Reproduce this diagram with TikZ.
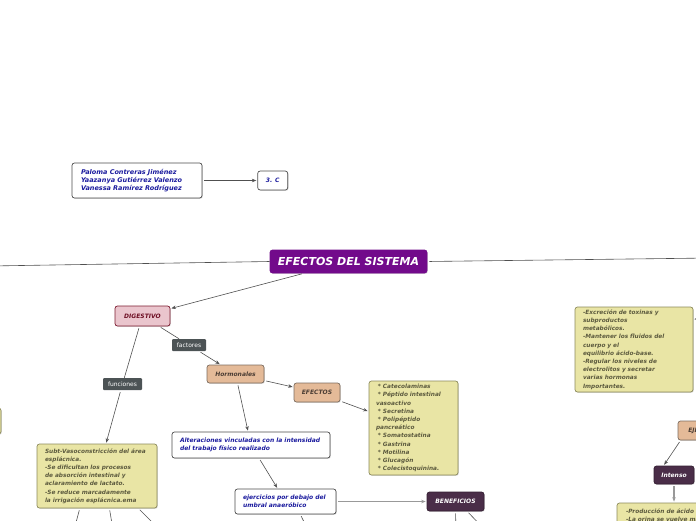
\documentclass[tikz,border=0pt]{standalone}
\usepackage{fontspec}
\usepackage{tikz}
\usetikzlibrary{arrows.meta,positioning,shadows}
\newfontfamily\mapfont{DejaVu Sans}
\definecolor{titlepurple}{HTML}{720A8B}
\definecolor{darkplum}{HTML}{4A2D48}
\definecolor{tagslate}{HTML}{4C5355}
\definecolor{notefill}{HTML}{E9E5A5}
\definecolor{notedraw}{HTML}{8C8A5C}
\definecolor{notetext}{HTML}{5C5A3E}
\definecolor{tanfill}{HTML}{E4BA98}
\definecolor{tandraw}{HTML}{7D6D5F}
\definecolor{tantext}{HTML}{4B3D34}
\definecolor{pinkfill}{HTML}{EAC5CD}
\definecolor{pinkdraw}{HTML}{7C1B30}
\definecolor{pinktext}{HTML}{6E0F24}
\definecolor{inkblue}{HTML}{1B1B9E}
\definecolor{linkgray}{HTML}{505050}

\begin{document}
\begin{tikzpicture}[x=1pt, y=-1pt,
  box/.style={rectangle, rounded corners=2.5pt, line width=0.7pt, inner sep=0pt,
              font=\mapfont\bfseries\itshape\fontsize{6}{8}\selectfont,
              drop shadow={shadow xshift=0.8pt, shadow yshift=-0.8pt, opacity=0.3}},
  whitebox/.style={box, draw=gray!60!black, fill=white, text=inkblue, align=left},
  notebox/.style={box, draw=notedraw, fill=notefill, text=notetext, align=left,
                  font=\mapfont\bfseries\itshape\fontsize{5.8}{8.2}\selectfont},
  tanbox/.style={box, draw=tandraw, fill=tanfill, text=tantext, align=center},
  pinkbox/.style={box, draw=pinkdraw, fill=pinkfill, text=pinktext, align=center},
  plumbox/.style={box, draw=darkplum!70!black, fill=darkplum, text=white, align=center},
  titlebox/.style={box, draw=titlepurple, fill=titlepurple, text=white,
                   font=\mapfont\bfseries\itshape\fontsize{11}{13}\selectfont},
  tag/.style={rectangle, rounded corners=1pt, fill=tagslate, text=white, inner sep=0pt,
              minimum height=12pt, font=\mapfont\fontsize{6}{7}\selectfont},
  link/.style={draw=linkgray, line width=0.6pt, -{Stealth[length=4.5pt,width=3.5pt]},
               shorten <=2pt, shorten >=1pt},
  line/.style={draw=linkgray, line width=0.6pt, shorten <=2pt},
]
\useasboundingbox (0,0) rectangle (696,520);
\clip (0,0) rectangle (696,520);

% authors
\node[whitebox, text width=112pt, minimum width=130pt, minimum height=35pt,
      font=\mapfont\bfseries\itshape\fontsize{6.5}{8}\selectfont] (authors) at (137,180.5)
  {Paloma Contreras Jiménez\\Yaazanya Gutiérrez Valenzo\\Vanessa Ramírez Rodríguez};
\node[whitebox, align=center, minimum width=30pt, minimum height=19pt, right=55pt of authors] (group) {3. C};

% central topic
\node[titlebox, minimum width=157pt, minimum height=23pt] (title) at (348.5,261.5) {EFECTOS DEL SISTEMA};
\coordinate (offleft) at (-10,266);
\coordinate (offright) at (710,258);

% digestive branch
\node[pinkbox, minimum width=55pt, minimum height=20pt] (digestivo) at (142.5,316) {DIGESTIVO};
\node[tag, minimum width=34pt] (factores) at (189,345) {factores};
\node[tag, minimum width=39pt] (funciones) at (122.5,384) {funciones};
\node[tanbox, minimum width=57pt, minimum height=18pt] (hormonales) at (235.5,374) {Hormonales};
\node[tanbox, minimum width=46pt, minimum height=19pt] (efectos) at (317,392.5) {EFECTOS};
\node[notebox, text width=75pt, minimum width=89pt, minimum height=94pt] (hormlist) at (413.5,428)
  {\ {*} Catecolaminas\\\ {*} Péptido intestinal\\vasoactivo\\\ {*} Secretina\\\ {*} Polipéptido\\pancreático\\
   \ {*} Somatostatina\\\ {*} Gastrina\\\ {*} Motilina\\\ {*} Glucagón\\\ {*} Colecistoquinina.};
\node[whitebox, text width=142pt, minimum width=158pt, minimum height=26pt] (alteraciones) at (251,445)
  {Alteraciones vinculadas con la intensidad\\del trabajo físico realizado};
\node[whitebox, text width=85pt, minimum width=101pt, minimum height=25pt] (ejercicios) at (285.5,501.5)
  {ejercicios por debajo del\\umbral anaeróbico};
\node[plumbox, minimum width=57pt, minimum height=19pt] (beneficios) at (455.5,501.5) {BENEFICIOS};
\node[notebox, text width=104pt, minimum width=120pt, minimum height=64pt] (subt) at (97,476)
  {Subt-Vasoconstricción del área\\esplácnica.\\-Se dificultan los procesos\\de absorción intestinal y\\
   aclaramiento de lactato.\\-Se reduce marcadamente\\la irrigación esplácnica.ema};
\node[notebox, minimum width=30pt, minimum height=26pt] (leftnote) at (-14,421) {};

% renal side
\node[notebox, text width=102pt, minimum width=118pt, minimum height=85pt] (renal) at (634,349.5)
  {-Excreción de toxinas y\\subproductos\\metabólicos.\\-Mantener los fluidos del\\cuerpo y el\\
   equilibrio ácido-base.\\-Regular los niveles de\\electrolitos y secretar\\varias hormonas\\Importantes.};
\node[tanbox, minimum width=54pt, minimum height=19pt] (ej) at (705,430.5) {EJERCICIO};
\node[plumbox, minimum width=40pt, minimum height=18pt] (intenso) at (674,475) {Intenso};
\node[notebox, text width=128pt, minimum width=146pt, minimum height=24pt] (acido) at (690,515)
  {-Producción de ácido láctico.\\-La orina se vuelve más ácida.};

% loose ends
\coordinate (s1) at (74,530);
\coordinate (s2) at (113,530);
\coordinate (s3) at (160,530);
\coordinate (b1) at (456,530);
\coordinate (b2) at (485,530);
\coordinate (e1) at (308,530);
\coordinate (r1) at (725,316);

\draw[link] (authors) -- (group);
\draw[line] (offleft) -- (title.west);
\draw[line] (title.east) -- (offright);
\draw[link] (title) -- (digestivo);
\draw[line] (digestivo) -- (factores);
\draw[link] (factores) -- (hormonales);
\draw[line] (digestivo) -- (funciones);
\draw[link] (funciones) -- (subt);
\draw[link] (hormonales) -- (efectos);
\draw[link] (efectos) -- (hormlist);
\draw[link] (hormonales) -- (alteraciones);
\draw[link] (alteraciones) -- (ejercicios);
\draw[link, draw=gray!80, line width=1.1pt] (ejercicios) -- (beneficios);
\draw[line] (subt.242) -- (s1);
\draw[line] (subt.291) -- (s2);
\draw[line] (subt.322) -- (s3);
\draw[line] (beneficios.south) -- (b1);
\draw[line] (beneficios.320) -- (b2);
\draw[line] (ejercicios.319) -- (e1);
\draw[link] (r1) -- (renal.27);
\draw[link] (ej.202) -- (intenso.138);
\draw[link, draw=gray!80, line width=1.1pt] (intenso) -- (intenso |- acido.north);
\end{tikzpicture}
\end{document}
